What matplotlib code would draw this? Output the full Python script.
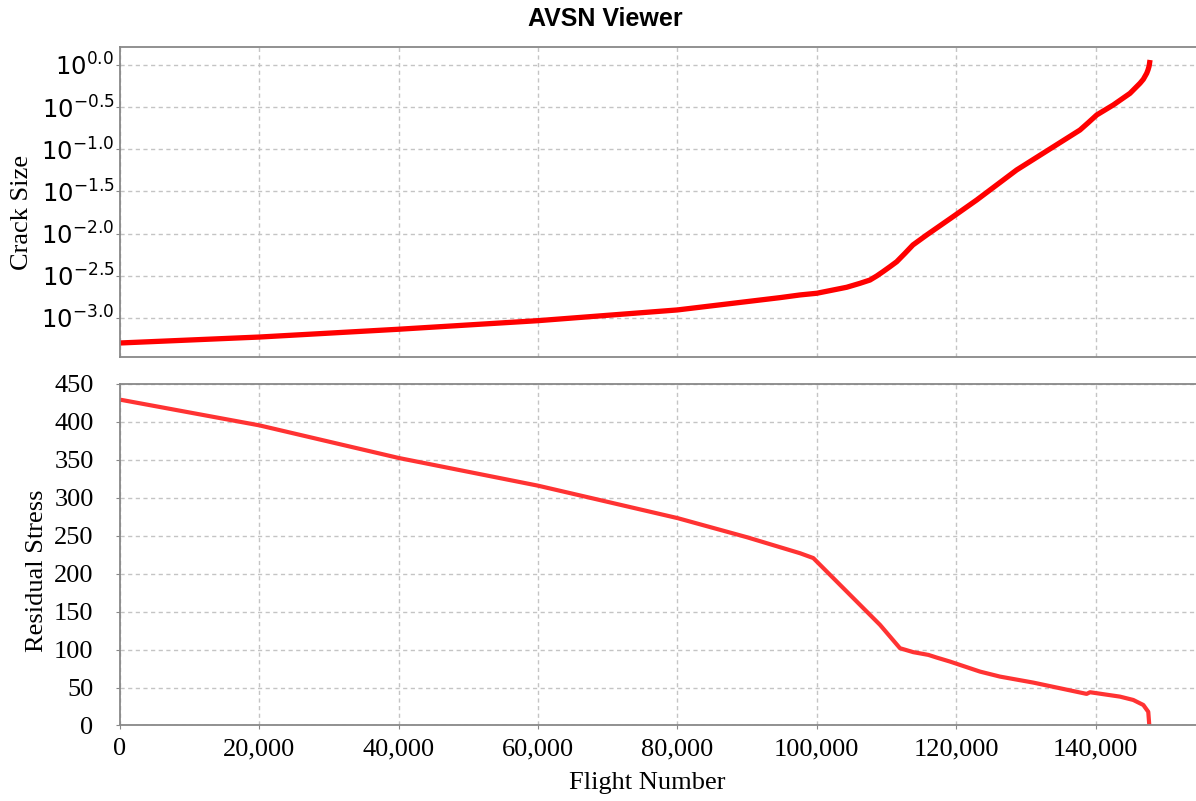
# AVSN viewer: crack growth and residual stress against flight number
import math
import matplotlib
matplotlib.use("Agg")
import matplotlib.pyplot as plt
from matplotlib.ticker import FixedLocator, FuncFormatter, NullLocator

# crack size curve
crack_flights = [0, 20000, 40000, 60000, 80000, 94720, 97590, 100000, 104290,
                 106200, 107635, 108600, 109500, 110500, 111470, 112660,
                 113800, 115770, 119550, 122950, 128680, 137770, 138960,
                 140170, 142550, 144950, 146380, 146860, 147350, 147530,
                 147670, 147720, 147820]
crack_size = [0.000505, 0.000594, 0.000735, 0.000929, 0.001245, 0.001742,
              0.001875, 0.001963, 0.002312, 0.002576, 0.002818, 0.003148,
              0.003540, 0.004055, 0.004645, 0.005848, 0.007345, 0.009638,
              0.01589, 0.02506, 0.05689, 0.1694, 0.2070, 0.2553, 0.3357,
              0.4613, 0.6067, 0.6761, 0.7980, 0.8730, 0.9550, 1.000, 1.146]

# residual stress curve
stress_flights = [0, 20000, 40000, 60000, 80000, 90000, 97590, 99500, 109070,
                  111940, 113850, 116010, 117200, 119120, 120550, 123420,
                  126290, 131070, 138730, 139210, 143510, 145420, 146860,
                  147570, 147720]
stress = [429.4, 395.5, 352.5, 316, 273.3, 248, 227, 220.6, 132.6, 101.8,
          96.6, 93, 89.5, 84.2, 79.8, 71, 64.4, 56.5, 41.6, 43.8, 38, 33.6,
          27, 18, 0]

crack_exps = [0.0, -0.5, -1.0, -1.5, -2.0, -2.5, -3.0]
stress_ticks = [0, 50, 100, 150, 200, 250, 300, 350, 400, 450]
flight_ticks = [0, 20000, 40000, 60000, 80000, 100000, 120000, 140000]

serif = "Liberation Serif"
frame = "#888888"
grid_kw = dict(color="#c4c4c4", linewidth=1.0, linestyle=(0, (3, 2.5)))

fig = plt.figure(figsize=(11.96, 8.01), dpi=100)
ax1 = fig.add_axes([0.1003, 0.5543, 0.8997, 0.3870])
ax2 = fig.add_axes([0.1003, 0.0943, 0.8997, 0.4263])

# top panel: crack size, log scale
ax1.plot(crack_flights, crack_size, color="#ff0000", linewidth=3.8,
         solid_capstyle="butt")
ax1.set_yscale("log")
ax1.set_ylim(10 ** -3.463, 10 ** 0.213)
ax1.yaxis.set_major_locator(FixedLocator([10 ** e for e in crack_exps]))
ax1.yaxis.set_minor_locator(NullLocator())
ax1.yaxis.set_major_formatter(FuncFormatter(
    lambda v, p: r"$10^{%.1f}$" % (round(math.log10(v) * 2) / 2)))
ax1.set_xlim(0, 154420)
ax1.xaxis.set_major_locator(FixedLocator(flight_ticks))
ax1.tick_params(axis="x", length=0, labelbottom=False)
ax1.tick_params(axis="y", length=3, color=frame, pad=1, labelsize=17.5)
ax1.grid(True, **grid_kw)

# bottom panel: residual stress
ax2.plot(stress_flights, stress, color="#ff3333", linewidth=3.0,
         solid_capstyle="butt")
ax2.set_ylim(0, 450)
ax2.set_xlim(0, 154420)
ax2.yaxis.set_major_locator(FixedLocator(stress_ticks))
ax2.xaxis.set_major_locator(FixedLocator(flight_ticks))
ax2.xaxis.set_major_formatter(FuncFormatter(lambda v, p: f"{int(v):,}"))
ax2.tick_params(axis="both", length=3, color=frame, labelsize=19)
ax2.tick_params(axis="y", pad=16)
ax2.tick_params(axis="x", pad=6)
for lab in ax2.get_xticklabels() + ax2.get_yticklabels():
    lab.set_fontfamily(serif)
ax2.grid(True, **grid_kw)

for ax in (ax1, ax2):
    ax.set_axisbelow(True)
    for s in ax.spines.values():
        s.set_color(frame)
        s.set_linewidth(1.3)
    ax.spines["right"].set_visible(False)

fig.text(0.506, 0.976, "AVSN Viewer", ha="center", va="center",
         fontsize=18, fontweight="bold", family="Liberation Sans")
fig.text(0.0185, 0.735, "Crack Size", rotation=90, ha="center", va="center",
         fontsize=19, family=serif)
fig.text(0.031, 0.288, "Residual Stress", rotation=90, ha="center",
         va="center", fontsize=19, family=serif)
fig.text(0.541, 0.022, "Flight Number", ha="center", va="center",
         fontsize=19, family=serif)

fig.savefig("out.png", dpi=100)
